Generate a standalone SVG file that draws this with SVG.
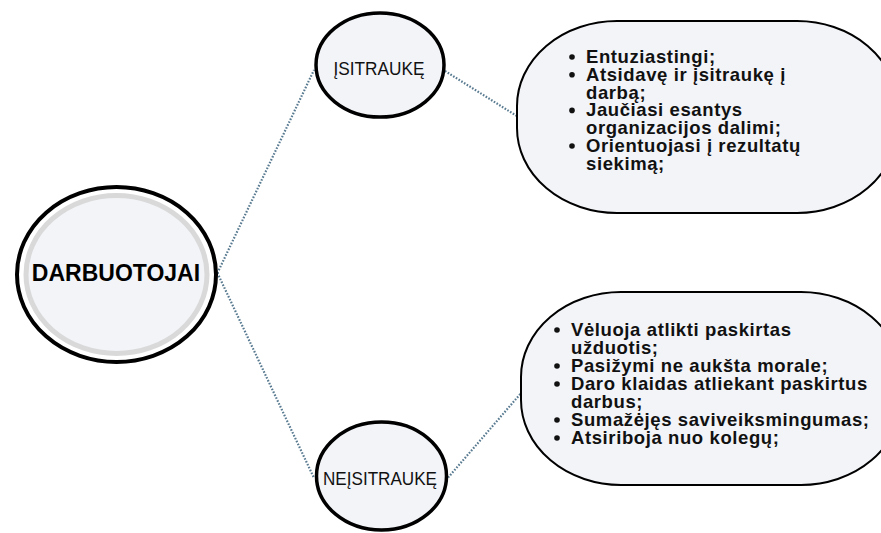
<svg xmlns="http://www.w3.org/2000/svg" width="881" height="533" viewBox="0 0 881 533">
<style>
.conn{fill:none;stroke:#587a90;stroke-width:2.2;stroke-dasharray:1.6 1.6}
.node{fill:#f2f4f8;stroke:#000;stroke-width:3.5}
.box{fill:#f2f4f8;stroke:#000;stroke-width:2}
.lbl{font-family:"Liberation Sans",Arial,sans-serif;font-size:18px;fill:#111;text-anchor:middle}
.item{font-family:"Liberation Sans",Arial,sans-serif;font-size:18.5px;font-weight:bold;letter-spacing:0.6px;fill:#111}
.dot{fill:#111}
</style>
<rect width="881" height="533" fill="#fff"/>
<g id="connectors">
<line class="conn" x1="216" y1="276" x2="314" y2="70"/>
<line class="conn" x1="216" y1="270" x2="314" y2="478"/>
<line class="conn" x1="445" y1="71" x2="520" y2="118"/>
<line class="conn" x1="446" y1="480" x2="522" y2="392"/>
</g>
<g id="darbuotojai">
<ellipse cx="116.5" cy="274.5" rx="99.5" ry="87.5" fill="#fff" stroke="#000" stroke-width="4"/>
<ellipse cx="116.5" cy="274.5" rx="90.5" ry="79" fill="#f2f4f8" stroke="#d9d9d9" stroke-width="5"/>
<text x="116" y="281" font-family="'Liberation Sans',Arial,sans-serif" font-size="23" font-weight="bold" text-anchor="middle" fill="#000">DARBUOTOJAI</text>
</g>
<g id="isitrauke">
<ellipse class="node" cx="380" cy="65" rx="64" ry="52"/>
<text class="lbl" x="379" y="75" textLength="91" lengthAdjust="spacingAndGlyphs">ĮSITRAUKĘ</text>
</g>
<g id="neisitrauke">
<ellipse class="node" cx="381.5" cy="476" rx="65" ry="54"/>
<text class="lbl" x="380" y="485" textLength="114" lengthAdjust="spacingAndGlyphs">NEĮSITRAUKĘ</text>
</g>
<g id="isitrauke-box">
<rect class="box" x="517" y="21" width="380" height="192" rx="100" ry="85"/>
<circle class="dot" cx="572" cy="57" r="2.8"/>
<circle class="dot" cx="572" cy="74.8" r="2.8"/>
<circle class="dot" cx="572" cy="110.4" r="2.8"/>
<circle class="dot" cx="572" cy="146" r="2.8"/>
<text class="item" x="586" y="63">Entuziastingi;</text>
<text class="item" x="586" y="80.8">Atsidavę ir įsitraukę į</text>
<text class="item" x="586" y="98.6">darbą;</text>
<text class="item" x="586" y="116.4">Jaučiasi esantys</text>
<text class="item" x="586" y="134.2">organizacijos dalimi;</text>
<text class="item" x="586" y="152">Orientuojasi į rezultatų</text>
<text class="item" x="586" y="169.8">siekimą;</text>
</g>
<g id="neisitrauke-box">
<rect class="box" x="521" y="292" width="380" height="193" rx="100" ry="85"/>
<circle class="dot" cx="557" cy="330" r="2.8"/>
<circle class="dot" cx="557" cy="366" r="2.8"/>
<circle class="dot" cx="557" cy="384" r="2.8"/>
<circle class="dot" cx="557" cy="420" r="2.8"/>
<circle class="dot" cx="557" cy="438" r="2.8"/>
<text class="item" x="571" y="336">Vėluoja atlikti paskirtas</text>
<text class="item" x="571" y="354">užduotis;</text>
<text class="item" x="571" y="372">Pasižymi ne aukšta morale;</text>
<text class="item" x="571" y="390">Daro klaidas atliekant paskirtus</text>
<text class="item" x="571" y="408">darbus;</text>
<text class="item" x="571" y="426">Sumažėjęs saviveiksmingumas;</text>
<text class="item" x="571" y="444">Atsiriboja nuo kolegų;</text>
</g>
</svg>
